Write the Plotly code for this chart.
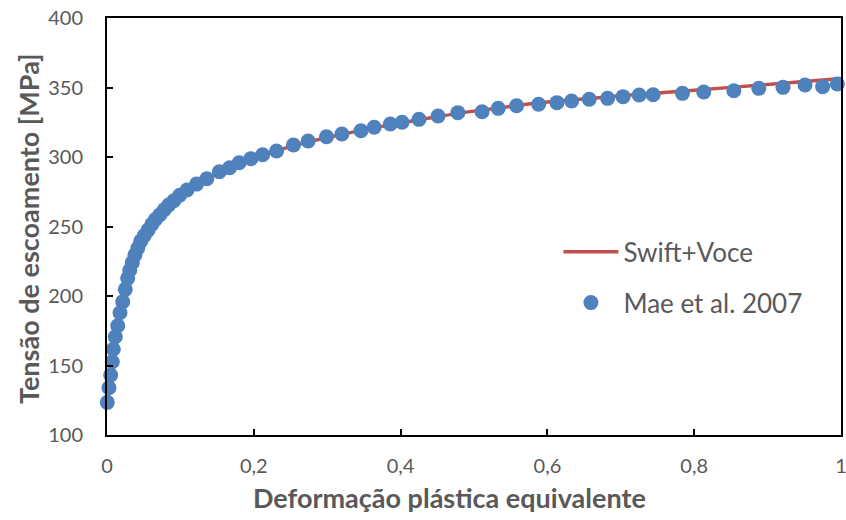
import plotly.graph_objects as go

# Experimental flow curve (Mae et al. 2007)
strain_exp = [0.0004, 0.0027, 0.005, 0.0072, 0.0086, 0.0113, 0.0146, 0.0177, 0.0214, 0.0249,
              0.0282, 0.031, 0.0345, 0.038, 0.042, 0.046, 0.051, 0.056, 0.061, 0.066,
              0.072, 0.078, 0.084, 0.091, 0.099, 0.109, 0.122, 0.136, 0.153, 0.167,
              0.180, 0.196, 0.212, 0.231, 0.254, 0.274, 0.299, 0.320, 0.346, 0.364,
              0.386, 0.402, 0.425, 0.451, 0.478, 0.511, 0.533, 0.558, 0.588, 0.613,
              0.633, 0.657, 0.682, 0.703, 0.725, 0.744, 0.784, 0.813, 0.854, 0.888,
              0.921, 0.951, 0.975, 0.995]
stress_exp = [123.5, 134.0, 143.2, 152.7, 161.7, 170.7, 178.6, 188.0, 195.9, 204.8,
              212.7, 218.5, 224.0, 229.5, 234.5, 239.5, 243.5, 247.5, 251.5, 255.0,
              258.5, 262.0, 265.5, 268.5, 272.5, 276.3, 280.5, 284.3, 289.4, 292.3,
              295.9, 298.8, 301.6, 304.3, 308.6, 311.5, 314.6, 316.5, 318.9, 321.4,
              323.7, 325.0, 327.1, 329.5, 331.9, 332.6, 335.0, 336.9, 337.9, 339.1,
              340.3, 341.5, 342.2, 343.4, 344.6, 344.8, 345.8, 346.8, 347.7, 349.4,
              350.1, 351.8, 350.6, 352.5]

# Swift+Voce fitted hardening curve
strain_fit = [0.0, 0.005, 0.01, 0.02, 0.03, 0.04, 0.05, 0.06, 0.08, 0.1, 0.12, 0.15,
              0.2, 0.25, 0.3, 0.35, 0.4, 0.45, 0.5, 0.6, 0.7, 0.8, 0.9, 1.0]
stress_fit = [122.0, 143.0, 166.0, 193.0, 215.0, 231.0, 242.5, 250.5, 263.0, 272.0,
              279.5, 288.0, 299.5, 307.5, 314.0, 319.5, 324.5, 329.0, 333.0, 339.5,
              344.0, 348.0, 352.2, 356.5]

x_ticks = [0, 0.2, 0.4, 0.6, 0.8, 1]
y_ticks = [100, 150, 200, 250, 300, 350, 400]

x_title = "Deformação plástica equivalente"
y_title = "Tensão de escoamento [MPa]"

GRAY = "#595959"
FONT = "Lato"

fig = go.Figure()
fig.add_trace(go.Scatter(
    x=strain_fit, y=stress_fit, mode="lines", name="Swift+Voce", legendgroup="fit",
    line=dict(color="#C0504D", width=3.5, shape="spline", smoothing=0.8),
))
fig.add_trace(go.Scatter(
    x=strain_exp, y=stress_exp, mode="markers", name="Mae et al. 2007", legendgroup="exp",
    marker=dict(color="#4F81BD", size=15, line=dict(width=0)),
    cliponaxis=False,
))

axis_common = dict(
    showgrid=False, zeroline=False, showline=True, linecolor="black", linewidth=2,
    mirror=True, ticks="inside", ticklen=6, tickwidth=2, tickcolor="black",
    tickfont=dict(family=FONT, size=20, color=GRAY), automargin=False,
    ticklabeloverflow="allow",
)

title_font = dict(family=FONT, size=27, color=GRAY)

fig.update_layout(
    width=846, height=520,
    margin=dict(l=107, r=5, t=18, b=85),
    paper_bgcolor="white", plot_bgcolor="white",
    separators=",.",
    showlegend=True,
    legend=dict(
        x=0.615, y=0.378, xanchor="left", yanchor="middle",
        font=dict(family=FONT, size=26, color=GRAY),
        bgcolor="rgba(0,0,0,0)", itemwidth=55,
        traceorder="grouped", tracegroupgap=14,
    ),
    xaxis=dict(range=[0, 1], tickvals=x_ticks, ticklabelstandoff=12, **axis_common),
    yaxis=dict(range=[100, 400], tickvals=y_ticks, ticklabelstandoff=18, **axis_common),
    annotations=[
        dict(text=f"<b>{x_title}</b>", xref="paper", yref="paper",
             x=0.466, y=-0.1487, xanchor="center", yanchor="middle",
             showarrow=False, font=title_font),
        dict(text=f"<b>{y_title}</b>", xref="paper", yref="paper",
             x=-0.1076, y=0.494, xanchor="center", yanchor="middle",
             textangle=-90, showarrow=False, font=title_font),
    ],
)

fig.write_html("out.html")
